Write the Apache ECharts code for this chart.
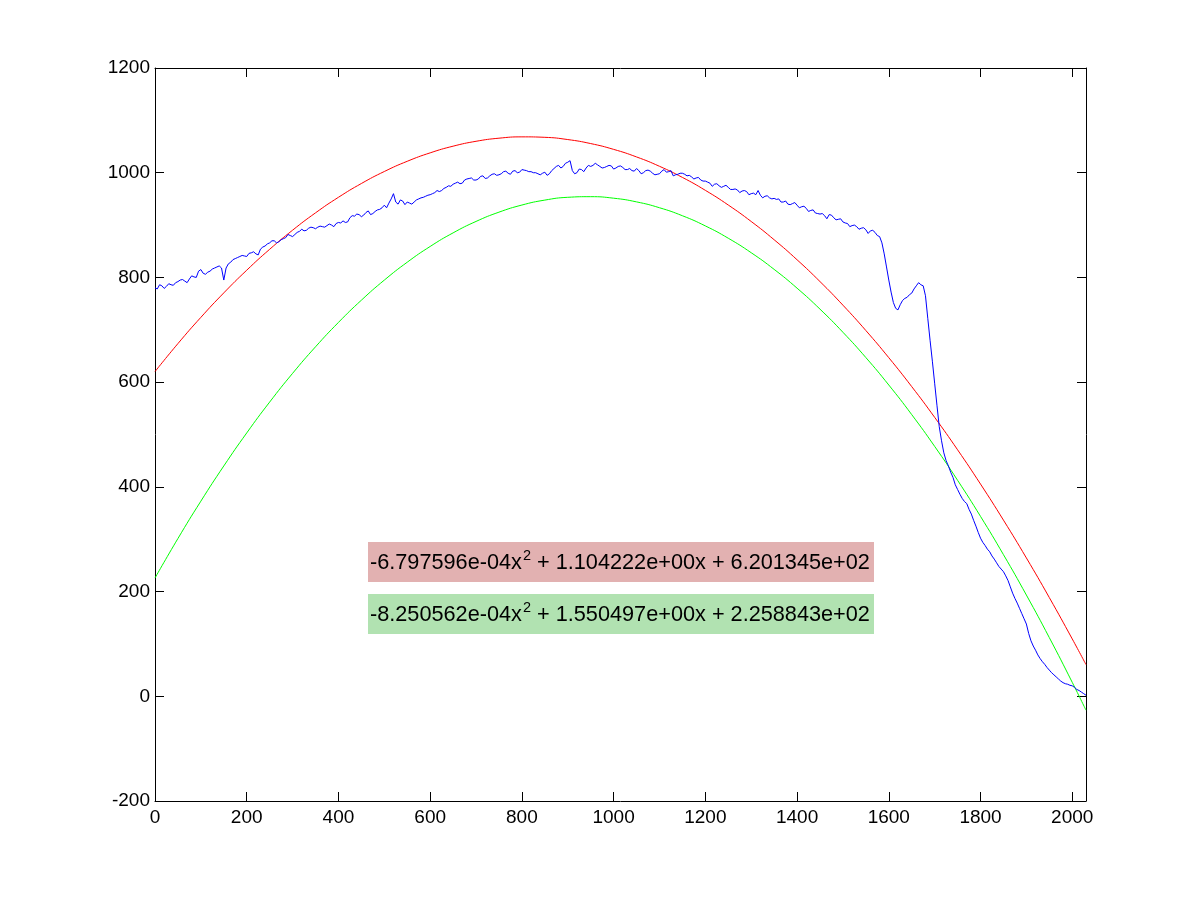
<!DOCTYPE html>
<html>
<head>
<meta charset="utf-8">
<script src="https://cdn.jsdelivr.net/npm/echarts@6/dist/echarts.min.js"></script>
<style>html,body{margin:0;padding:0;background:#fff;}#chart{width:1200px;height:900px;}</style>
</head>
<body>
<div id="chart"></div>
<script>
// Measured signal (blue), one value every 5 units of x (0 .. 2030)
var blueStep = 5;
var blueY = [
780,778,786,784,779,783,788,786,785,790,
792,795,796,793,790,797,803,801,800,812,
815,808,806,810,812,816,818,820,822,818,
795,818,826,829,834,836,838,840,842,841,
840,846,847,849,845,843,854,858,860,864,
866,870,870,866,868,872,874,876,882,880,
878,882,886,888,892,889,890,894,896,895,
893,896,898,897,896,899,902,900,897,903,
905,904,908,905,906,914,918,917,921,920,
916,919,924,927,920,922,926,929,930,933,
938,933,942,950,960,944,940,948,946,939,
944,942,940,944,948,950,952,953,955,957,
958,960,962,966,964,966,970,972,975,974,
978,980,982,979,980,986,988,989,990,986,
986,988,993,994,989,990,994,997,998,995,
996,998,1002,1003,999,997,1003,1004,1000,1001,
1006,1005,1004,1002,1002,1000,1000,998,996,999,
1001,995,998,1004,1008,1012,1014,1009,1012,1018,
1020,1023,1004,998,1000,1007,1006,1002,1009,1014,
1012,1014,1018,1015,1012,1009,1010,1012,1014,1013,
1007,1009,1012,1013,1010,1006,1006,1008,1004,1003,
1008,1004,998,1000,1004,1005,1003,999,996,997,
998,1003,1006,1001,1002,1004,994,996,997,999,
999,997,994,995,992,988,990,991,986,984,
984,982,980,974,978,979,975,972,974,976,
972,968,968,969,967,962,965,966,964,958,
960,961,958,966,957,952,955,956,952,950,
951,949,950,944,944,946,940,939,941,943,
938,933,935,936,932,926,928,929,923,922,
921,922,918,912,920,919,914,910,911,912,
906,904,903,897,899,900,897,892,894,895,
891,884,889,890,886,880,878,866,845,820,
795,772,752,741,738,748,756,760,762,767,
770,778,784,790,786,784,765,722,680,640,
598,556,515,488,465,450,440,428,418,404,
395,386,378,372,368,357,348,336,325,313,
302,294,288,281,276,268,262,255,248,243,
238,230,221,209,197,187,178,168,158,148,
138,120,106,96,88,79,72,66,61,55,
50,45,41,37,33,29,26,24,23,21,
20,17,13,11,8,5,2
];
// Fitted quadratic curves (red, green), values every 50 units of x
var fitX = [0,50,100,150,200,250,300,350,400,450,500,550,600,650,700,750,800,850,900,950,1000,1050,1100,1150,1200,1250,1300,1350,1400,1450,1500,1550,1600,1650,1700,1750,1800,1850,1900,1950,2000,2030];
var redY = [620.13,673.65,723.76,770.47,813.79,853.71,890.22,923.34,953.06,979.38,1002.31,1021.83,1037.95,1050.68,1060.01,1065.94,1068.47,1067.60,1063.33,1055.66,1044.60,1030.13,1012.27,991.01,966.35,938.29,906.83,871.97,833.72,792.06,747.01,698.56,646.71,591.46,532.81,470.76,405.31,336.47,264.23,188.58,109.54,60.51];
var greenY = [225.88,301.35,372.68,439.90,502.98,561.94,616.78,667.49,714.07,756.53,794.87,829.08,859.16,885.12,906.95,924.66,938.25,947.70,953.04,954.24,951.33,944.28,933.11,917.82,898.40,874.86,847.19,815.39,779.47,739.42,695.25,646.96,594.54,537.99,477.32,412.52,343.60,270.55,193.38,112.08,26.65,-26.56];
var redLabel = ['-6.797596e-04x', '2', ' + 1.104222e+00x + 6.201345e+02'];
var greenLabel = ['-8.250562e-04x', '2', ' + 1.550497e+00x + 2.258843e+02'];
var xTicks = {min: 0, max: 2030, interval: 200};
var yTicks = {min: -200, max: 1200, interval: 200};

var blueData = blueY.map(function (v, i) { return [i * blueStep, v]; });
function pairs(xs, ys) { var o = []; for (var i = 0; i < ys.length; i++) o.push([xs[i], ys[i]]); return o; }

var chart = echarts.init(document.getElementById('chart'), null, {renderer: 'canvas'});
var FONT = 'Liberation Sans, Arial, sans-serif';
function axisCommon(show) {
  return {
    axisLine: {show: true, onZero: false, lineStyle: {color: '#000', width: 1}},
    axisTick: {show: true, inside: true, length: 9, lineStyle: {color: '#000', width: 1}},
    splitLine: {show: false},
    axisLabel: show ? {show: true, color: '#000', fontSize: 19, fontFamily: FONT} : {show: false}
  };
}
var xa = Object.assign({type: 'value', position: 'bottom', min: xTicks.min, max: xTicks.max, interval: xTicks.interval}, axisCommon(true));
xa.axisLabel.margin = 7;
xa.axisLabel.formatter = function (v) { return (v % 200 === 0) ? String(v) : ''; };
var xb = Object.assign({type: 'value', position: 'top', min: xTicks.min, max: xTicks.max, interval: xTicks.interval}, axisCommon(false));
var ya = Object.assign({type: 'value', position: 'left', min: yTicks.min, max: yTicks.max, interval: yTicks.interval}, axisCommon(true));
ya.axisLabel.margin = 5;
ya.axisLabel.formatter = function (v) { return String(v); };
var yb = Object.assign({type: 'value', position: 'right', min: yTicks.min, max: yTicks.max, interval: yTicks.interval}, axisCommon(false));

function eqText(parts) {
  return '{n|' + parts[0] + '}{s|' + parts[1] + '}{n|' + parts[2] + '}';
}
var rich = {
  n: {fontSize: 21.7, fontFamily: FONT, color: '#000', lineHeight: 26, verticalAlign: 'bottom'},
  s: {fontSize: 14.5, fontFamily: FONT, color: '#000', lineHeight: 26, verticalAlign: 'top', padding: [0,0,0,1]}
};

chart.setOption({
  animation: false,
  backgroundColor: '#fff',
  grid: {left: 155, right: 114, top: 68, bottom: 99, containLabel: false},
  xAxis: [xa, xb],
  yAxis: [ya, yb],
  series: [
    {type: 'line', data: blueData, showSymbol: false, lineStyle: {color: '#0000ff', width: 1}, z: 3},
    {type: 'line', data: pairs(fitX, redY), smooth: true, showSymbol: false, lineStyle: {color: '#ff0000', width: 1}, z: 2},
    {type: 'line', data: pairs(fitX, greenY), smooth: true, showSymbol: false, lineStyle: {color: '#00ff00', width: 1}, z: 2}
  ],
  graphic: [
    {type: 'rect', left: 368, top: 542, shape: {width: 506, height: 40}, style: {fill: '#e2b1b1'}, z: 10},
    {type: 'text', left: 370, top: 548, style: {text: eqText(redLabel), rich: rich}, z: 11},
    {type: 'rect', left: 368, top: 594, shape: {width: 506, height: 40}, style: {fill: '#b1e2b1'}, z: 10},
    {type: 'text', left: 370, top: 600, style: {text: eqText(greenLabel), rich: rich}, z: 11}
  ]
});
</script>
</body>
</html>
